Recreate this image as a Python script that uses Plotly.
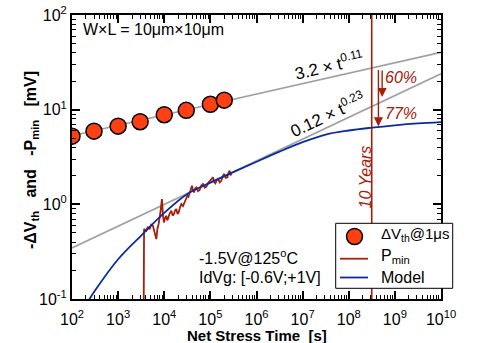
import numpy as np
import plotly.graph_objects as go

# ---------------- data ----------------
circ_t = [1e2, 3e2, 1e3, 3e3, 1e4, 3e4, 1e5, 2e5]
circ_v = [5.25, 5.93, 6.7, 7.46, 8.85, 9.84, 11.4, 12.6]

fit_t = [1e2, 1e10]
fit_hi = [5.3, 40.3]      # 3.2 x t^0.11
fit_lo = [0.346, 23.9]    # 0.12 x t^0.23

pmin_t = [3570, 3650, 4080, 4400, 4820, 5200, 5675, 6200, 6730, 7100, 7550, 8200,
          8910, 9400, 9840, 10400, 11090, 11500, 12020, 13100, 14260, 15200, 16220,
          17200, 18280, 19400, 20510, 22000, 23500, 25500, 27670, 29500, 31700,
          33500, 35560, 37700, 39900, 42000, 44060, 47000, 49770, 54000, 58610,
          63500, 69180, 75500, 82040, 89000, 96600, 105000, 114000, 121000, 128500,
          137000, 146200, 160000, 173400, 185000, 197700, 215000, 234400, 248000,
          262400, 274000, 285800]
pmin_v = [0.05, 0.55, 0.525, 0.58, 0.547, 0.61, 0.593, 0.50, 0.429, 0.55, 0.618, 0.80,
          1.138, 0.75, 0.643, 0.72, 0.757, 0.68, 0.698, 0.80, 0.855, 0.76, 0.789,
          0.86, 0.891, 0.79, 0.820, 0.93, 1.007, 0.96, 1.047, 1.15, 1.233, 1.20,
          1.337, 1.45, 1.574, 1.40, 1.337, 1.48, 1.510, 1.38, 1.419, 1.58, 1.641,
          1.50, 1.538, 1.68, 1.750, 1.85, 1.928, 1.72, 1.667, 1.80, 1.854, 1.70,
          1.778, 1.98, 2.094, 1.90, 1.928, 2.15, 2.270, 2.02, 2.094]

model_t = [178, 316, 1e3, 3162, 1e4, 31620, 1e5, 316200, 1e6, 3.162e6, 1e7,
           3.162e7, 1e8, 3.162e8, 1e9, 3.162e9, 1e10]
model_v = [0.0793, 0.123, 0.263, 0.468, 0.813, 1.288, 1.698, 2.188, 2.818, 3.606,
           4.539, 5.458, 6.026, 6.457, 6.839, 7.161, 7.396]

ten_years = 3.15e8
vline_v = [0.05, 200]

xtick_vals = [1e2, 1e3, 1e4, 1e5, 1e6, 1e7, 1e8, 1e9, 1e10]
xtick_text = ["10<sup>%d</sup>" % k for k in range(2, 11)]
ytick_vals = [1e-1, 1e0, 1e1, 1e2]
ytick_text = ["10<sup>-1</sup>", "10<sup>0</sup>", "10<sup>1</sup>", "10<sup>2</sup>"]

legend_labels = ["ΔV<sub>th</sub>@1μs", "P<sub>min</sub>", "Model"]

DARKRED = "#a5200a"
BLUE = "#0a2ca0"
GRAY = "#a0a0a0"
ORANGE = "#ff4014"
FONT = "Liberation Sans, Arial, Helvetica, sans-serif"

W, H = 477, 343
ML, MR, MT, MB = 72, 36, 15, 44
PW, PH = W - ML - MR, H - MT - MB

def px(x):  # pixel x -> paper
    return (x - ML) / PW

def py(y):  # pixel y -> paper
    return (H - MB - y) / PH

fig = go.Figure()

fig.add_trace(go.Scatter(x=fit_t, y=fit_hi, mode="lines",
                         line=dict(color=GRAY, width=1.6), hoverinfo="skip"))
fig.add_trace(go.Scatter(x=fit_t, y=fit_lo, mode="lines",
                         line=dict(color=GRAY, width=1.6), hoverinfo="skip"))
fig.add_trace(go.Scatter(x=[ten_years, ten_years], y=vline_v, mode="lines",
                         line=dict(color=DARKRED, width=1.6), hoverinfo="skip"))
fig.add_trace(go.Scatter(x=pmin_t, y=pmin_v, mode="lines", name=legend_labels[1],
                         line=dict(color=DARKRED, width=1.8)))
fig.add_trace(go.Scatter(x=model_t, y=model_v, mode="lines", name=legend_labels[2],
                         line=dict(color=BLUE, width=1.8, shape="spline", smoothing=1.0)))
fig.add_trace(go.Scatter(x=circ_t, y=circ_v, mode="markers", name=legend_labels[0],
                         marker=dict(size=16, color=ORANGE, line=dict(color="black", width=1.5))))

def minor_vals(lo, hi):
    return [m * 10.0 ** e for e in range(lo, hi) for m in range(2, 10)]

axis_common = dict(
    type="log", showline=True, linecolor="black", linewidth=2, mirror="allticks",
    ticks="inside", ticklen=8, tickwidth=1.5, tickcolor="black",
    showgrid=False, zeroline=False, tickmode="array", automargin=False,
    tickfont=dict(family=FONT, size=16, color="black"),
)

fig.update_xaxes(range=[2, 10], tickvals=xtick_vals, ticktext=xtick_text, **axis_common,
                 ticklabelstandoff=5,
                 minor=dict(ticks="inside", ticklen=4, tickwidth=1, tickcolor="black",
                            showgrid=False, tickvals=minor_vals(2, 10)))
fig.update_yaxes(range=[-1, 2], tickvals=ytick_vals, ticktext=ytick_text, **axis_common,
                 minor=dict(ticks="inside", ticklen=4, tickwidth=1, tickcolor="black",
                            showgrid=False, tickvals=minor_vals(-1, 2)))

ann = []
def txt(x, y, text, size=16, color="black", angle=0, xanchor="center", yanchor="middle"):
    ann.append(dict(x=np.log10(x), y=np.log10(y), xref="x", yref="y", text=text,
                    showarrow=False, textangle=angle, xanchor=xanchor, yanchor=yanchor,
                    font=dict(family=FONT, size=size, color=color)))

def ptxt(x, y, text, size=16, angle=0, xanchor="center", yanchor="middle", bold=False):
    ann.append(dict(x=px(x), y=py(y), xref="paper", yref="paper",
                    text=("<b>%s</b>" % text) if bold else text,
                    showarrow=False, textangle=angle, xanchor=xanchor, yanchor=yanchor,
                    font=dict(family=FONT, size=size, color="black")))

# axis titles
ptxt(257, 335, "Net Stress Time&nbsp; [s]", size=15, bold=True)
ptxt(31, 160, "-ΔV<sub>th</sub>&nbsp;&nbsp; and&nbsp;&nbsp; -P<sub>min</sub>&nbsp;&nbsp; [mV]",
     size=16, angle=-90, bold=True)

txt(10**2.2, 10**1.852, "W×L = 10μm×10μm", xanchor="left")
txt(10**7.569, 10**1.47, "3.2 × t<sup>0.11</sup>", size=17, angle=-13)
txt(10**7.536, 10**0.958, "0.12 × t<sup>0.23</sup>", size=17, angle=-25)
txt(10**9.132, 10**1.337, "<i>60%</i>", size=16, color=DARKRED)
txt(10**9.132, 10**0.964, "<i>77%</i>", size=16, color=DARKRED)
txt(10**8.372, 10**0.293, "<i>10 Years</i>", size=16, color=DARKRED, angle=-90)
txt(10**4.703, 10**-0.556, "-1.5V@125<sup>o</sup>C", xanchor="left")
txt(10**4.703, 10**-0.768, "IdVg: [-0.6V;+1V]", xanchor="left")

# arrows (tip positions in data, tails offset in px)
arrow_tip_t = [5.3e8, 4.4e8]
arrow_tip_v = [13.6, 6.65]
arrow_len_px = [28, 58]
for t, v, L in zip(arrow_tip_t, arrow_tip_v, arrow_len_px):
    ann.append(dict(x=np.log10(t), y=np.log10(v), xref="x", yref="y", ax=0, ay=-L,
                    showarrow=True, arrowhead=2, arrowsize=1.3, arrowwidth=1.4,
                    arrowcolor=DARKRED, text="", standoff=0))

# ---- legend box (drawn in paper space) ----
shapes = [
    dict(type="rect", xref="paper", yref="paper", x0=px(335.7), x1=px(452.7),
         y0=py(288.3), y1=py(223.3), fillcolor="white", line=dict(color="black", width=1),
         layer="above"),
    dict(type="circle", xref="paper", yref="paper", xsizemode="pixel", ysizemode="pixel",
         xanchor=px(354.5), yanchor=py(236.5), x0=-8, x1=8, y0=-8, y1=8,
         fillcolor=ORANGE, line=dict(color="black", width=1.5), layer="above"),
    dict(type="line", xref="paper", yref="paper", x0=px(340), x1=px(368),
         y0=py(258.7), y1=py(258.7), line=dict(color=DARKRED, width=1.8), layer="above"),
    dict(type="line", xref="paper", yref="paper", x0=px(340), x1=px(368),
         y0=py(277.5), y1=py(277.5), line=dict(color=BLUE, width=1.8), layer="above"),
]
for lab, yy, fs in zip(legend_labels, [234.5, 256, 277.5], [15, 16, 16]):
    ptxt(379, yy, lab, size=fs, xanchor="left")

fig.update_layout(
    width=W, height=H,
    margin=dict(l=ML, r=MR, t=MT, b=MB),
    paper_bgcolor="white", plot_bgcolor="white",
    font=dict(family=FONT, size=15, color="black"),
    annotations=ann, shapes=shapes, showlegend=False,
)

fig.write_html("out.html")
